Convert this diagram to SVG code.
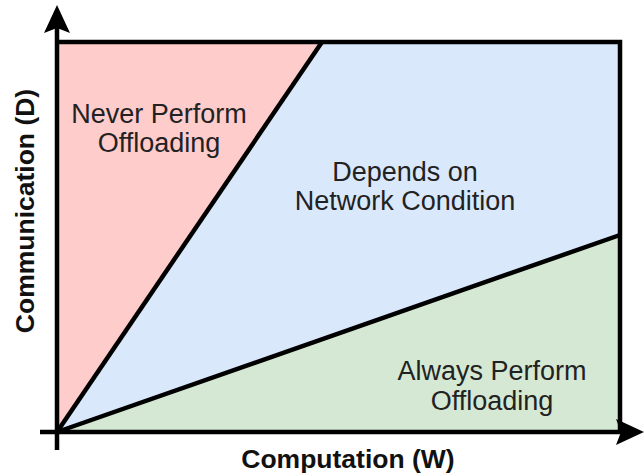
<svg xmlns="http://www.w3.org/2000/svg" width="644" height="475" viewBox="0 0 644 475">
  <style>
    .region { stroke: none; }
    .edge { stroke: #000; stroke-width: 4.5; fill: none; stroke-linecap: butt; stroke-linejoin: miter; }
    .lbl { font-family: "Liberation Sans", Arial, sans-serif; font-size: 27px; fill: #222; text-anchor: middle; }
    .axis { font-family: "Liberation Sans", Arial, sans-serif; font-size: 26.5px; font-weight: bold; fill: #111; text-anchor: middle; }
  </style>
  <rect width="644" height="475" fill="#ffffff"/>
  <g id="region-blue">
    <polygon class="region" fill="#dae8fc" points="57,432 322,42 620,42 620,235"/>
    <text class="lbl" x="405" y="181">Depends on</text>
    <text class="lbl" x="405" y="210">Network Condition</text>
  </g>
  <g id="region-red">
    <polygon class="region" fill="#ffcccc" points="57,432 57,42 322,42"/>
    <text class="lbl" x="159" y="123">Never Perform</text>
    <text class="lbl" x="159" y="152">Offloading</text>
  </g>
  <g id="region-green">
    <polygon class="region" fill="#d5e8d4" points="57,432 620,432 620,235"/>
    <text class="lbl" x="492" y="380">Always Perform</text>
    <text class="lbl" x="492" y="410">Offloading</text>
  </g>
  <g id="connectors">
    <polyline class="edge" points="57,42 620,42 620,432"/>
    <line class="edge" x1="57" y1="432" x2="322" y2="42"/>
    <line class="edge" x1="57" y1="432" x2="620" y2="235"/>
    <line class="edge" x1="57" y1="450" x2="57" y2="26"/>
    <polygon fill="#000" points="57,5 44,33 57,28 70,33"/>
    <line class="edge" x1="40" y1="432" x2="634" y2="432"/>
    <polygon fill="#000" points="644,432 616,419 621,432 616,445"/>
  </g>
  <g id="axis-labels">
    <text class="axis" x="348" y="468">Computation (W)</text>
    <text class="axis" transform="translate(34,211) rotate(-90)">Communication (D)</text>
  </g>
</svg>
